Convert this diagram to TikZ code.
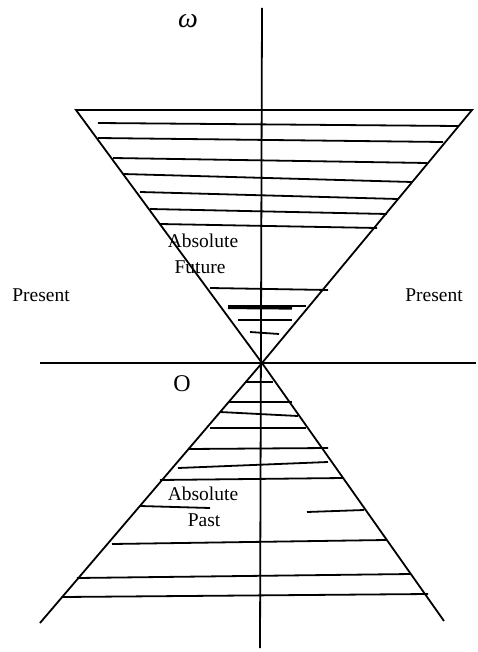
\documentclass[tikz,border=0pt]{standalone}
\usepackage{fontspec}
\setmainfont{Liberation Serif}
\begin{document}
\begin{tikzpicture}[x=1pt,y=-1pt,
  ln/.style={line width=1.8pt, line cap=butt},
  thick2/.style={line width=3.2pt},
  lbl/.style={inner sep=0pt, anchor=base, font=\fontsize{19.5}{23}\selectfont},
  biglbl/.style={inner sep=0pt, anchor=base, font=\fontsize{24}{28}\selectfont},
  omlbl/.style={inner sep=0pt, anchor=base, font=\itshape\fontsize{28}{32}\selectfont}]
\useasboundingbox (0,0) rectangle (477,652);
% axes
\coordinate (O) at (262,363);
\coordinate (vt) at (262,8);
\coordinate (vb) at (260,648);
\coordinate (hl) at (40,363);
\coordinate (hr) at (476,363);
\draw[ln] (vt) -- (vb);
\draw[ln] (hl) -- (hr);
% upper cone
\coordinate (ul) at (76,110);
\coordinate (ur) at (472,110);
\draw[ln, line join=miter] (O) -- (ul) -- (ur) -- cycle;
% lower cone
\coordinate (ll) at (40,623);
\coordinate (lr) at (444,621);
\draw[ln] (ll) -- (O) -- (lr);
% upper hatching
\draw[ln] (98,123) -- (458,126);
\draw[ln] (98,138) -- (443,142);
\draw[ln] (113,158) -- (427,163);
\draw[ln] (123,174) -- (412,182);
\draw[ln] (140,192) -- (398,199);
\draw[ln] (150,209) -- (387,214);
\draw[ln] (160,224) -- (377,228);
\draw[ln] (210,288) -- (328,290);
\draw[thick2] (228,307.5) -- (292,308);
\draw[ln] (228,306) -- (306,306);
\draw[ln] (238,320) -- (292,320);
\draw[ln] (250,332) -- (279,334);
% lower hatching
\draw[ln] (245,382) -- (273,382);
\draw[ln] (228,402) -- (292,402);
\draw[ln] (220,412) -- (298,416);
\draw[ln] (210,428) -- (306,428);
\draw[ln] (188,449) -- (328,448);
\draw[ln] (178,468) -- (328,462);
\draw[ln] (160,480) -- (343,478);
\draw[ln] (140,506) -- (210,508);
\draw[ln] (307,512) -- (364,510);
\draw[ln] (112,544) -- (386,540);
\draw[ln] (77,578) -- (411,574);
\draw[ln] (62,597) -- (428,594);
% labels
\node[omlbl] (om) at (188,28) {ω};
\node[lbl] (presL) at (41,301) {Present};
\node[lbl] (presR) at (434,301) {Present};
\node[lbl] (af1) at (203,247) {Absolute};
\node[lbl] (af2) at (200,273) {Future};
\node[biglbl] (o) at (182,391) {O};
\node[lbl] (ap1) at (203,500) {Absolute};
\node[lbl] (ap2) at (204,526) {Past};
\end{tikzpicture}
\end{document}
